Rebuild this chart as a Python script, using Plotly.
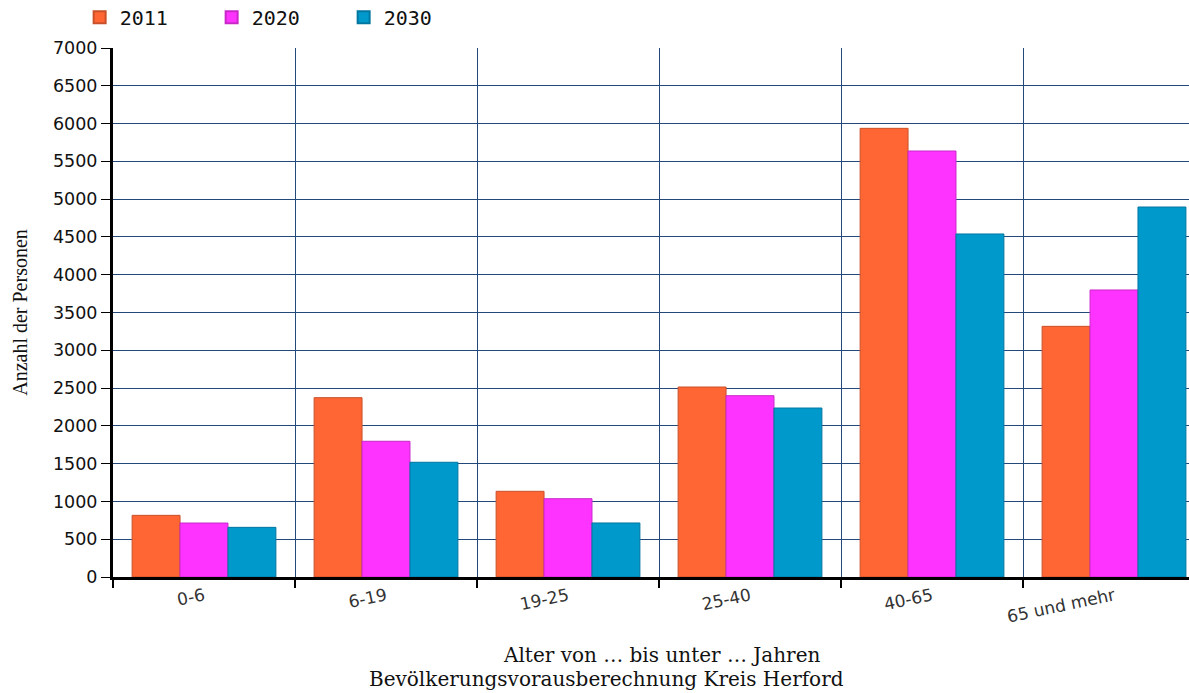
import plotly.graph_objects as go

categories = ["0-6", "6-19", "19-25", "25-40", "40-65", "65 und mehr"]
v2011 = [816, 2373, 1134, 2514, 5937, 3317]
v2020 = [714, 1796, 1036, 2399, 5637, 3798]
v2030 = [657, 1518, 715, 2236, 4539, 4896]
yticks = list(range(0, 7001, 500))

series = [
    ("2011", v2011, "#FF6633", "#C8502A"),
    ("2020", v2020, "#FF33FF", "#C828C8"),
    ("2030", v2030, "#0099CC", "#0077A0"),
]

fig = go.Figure()
for name, vals, col, edge in series:
    fig.add_trace(go.Bar(
        x=categories, y=vals, name=name,
        marker=dict(color=col, line=dict(color=edge, width=1)),
    ))

grid = "#23497A"
fig.update_layout(
    width=1189, height=693,
    margin=dict(l=113, r=0, t=48, b=116),
    paper_bgcolor="white", plot_bgcolor="white",
    barmode="group", bargap=0.21, bargroupgap=0,
    showlegend=True,
    legend=dict(
        orientation="h", x=-0.031, xanchor="left",
        y=0.975, yref="container", yanchor="middle",
        entrywidth=87, entrywidthmode="pixels",
        font=dict(family="DejaVu Sans Mono", size=20, color="#111"),
        itemsizing="constant", traceorder="normal",
    ),
    font=dict(family="DejaVu Sans", color="#222"),
)

fig.update_xaxes(
    type="category",
    range=[-0.5, 5.412],
    tickson="boundaries",
    showgrid=True, gridcolor=grid, gridwidth=1.3,
    ticks="outside", ticklen=8, tickcolor="black", tickwidth=1.5,
    showline=True, linecolor="black", linewidth=2.5,
    tickangle=-12,
    tickfont=dict(family="DejaVu Sans", size=17, color="#333"),
)
fig.update_yaxes(
    range=[0, 7000],
    tickvals=yticks,
    showgrid=True, gridcolor=grid, gridwidth=1.3,
    ticks="outside", ticklen=9, tickcolor="black", tickwidth=1,
    showline=True, linecolor="black", linewidth=3,
    zeroline=False,
    tickfont=dict(family="DejaVu Sans", size=17.5, color="#111"),
    title=dict(text="Anzahl der Personen",
               font=dict(family="Liberation Serif", size=20, color="#111"),
               standoff=20),
)

fig.add_annotation(text="Alter von … bis unter … Jahren", xref="paper", yref="paper",
                   x=(662 - 113) / (1189 - 113), y=-(655 - 577) / (577 - 48),
                   xanchor="center", yanchor="middle", showarrow=False,
                   font=dict(family="DejaVu Serif", size=20, color="#111"))
fig.add_annotation(text="Bevölkerungsvorausberechnung Kreis Herford", xref="paper", yref="paper",
                   x=(606 - 113) / (1189 - 113), y=-(679 - 577) / (577 - 48),
                   xanchor="center", yanchor="middle", showarrow=False,
                   font=dict(family="DejaVu Serif", size=20, color="#111"))

fig.write_html("out.html")
